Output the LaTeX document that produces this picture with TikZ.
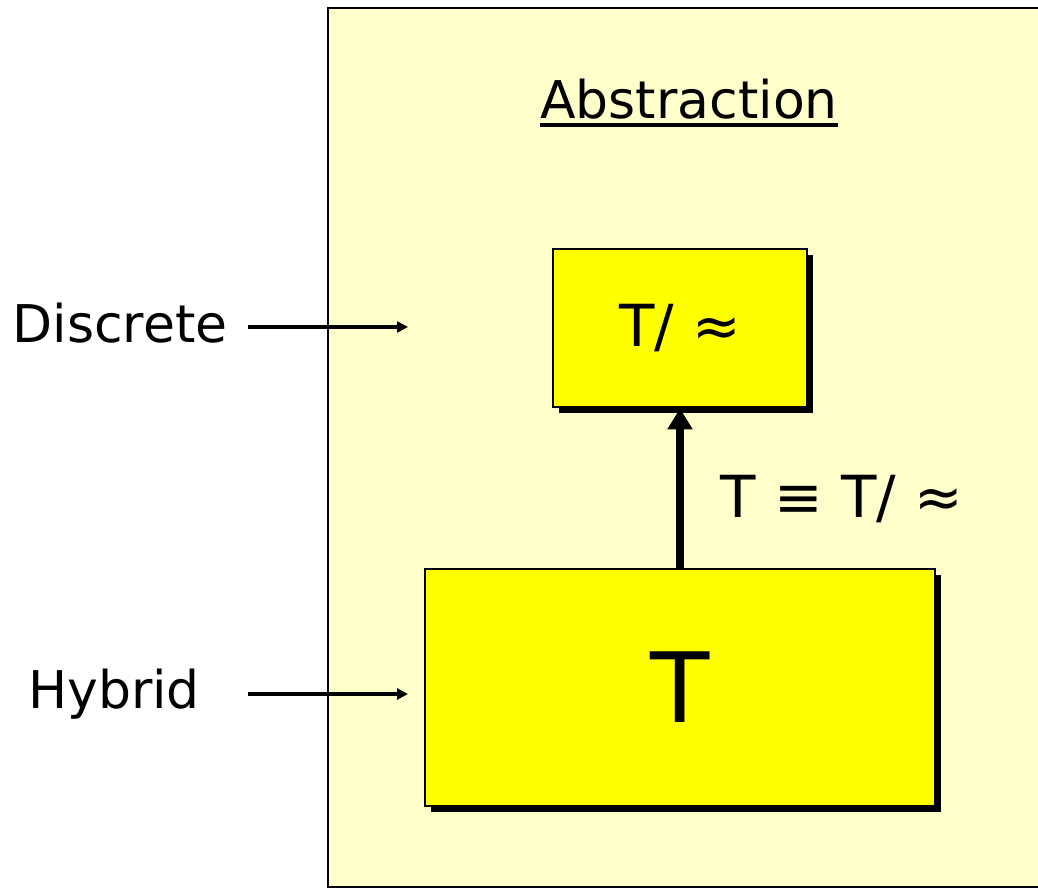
\documentclass[tikz,border=0pt]{standalone}
\usepackage{fontspec}
\setmainfont{DejaVu Sans}
\usetikzlibrary{arrows.meta,shadows,calc}
\definecolor{panelfill}{HTML}{FFFFCC}
\definecolor{boxfill}{HTML}{FFFF00}
\begin{document}
\begin{tikzpicture}[x=1pt,y=-1pt,
  side label/.style={font=\fontsize{52}{60}\selectfont, inner sep=0pt, anchor=base},
  formula/.style={font=\fontsize{58}{66}\selectfont, inner sep=0pt},
  level box/.style={draw=black, line width=2.8pt, fill=boxfill, inner sep=0pt,
    drop shadow={shadow xshift=6pt, shadow yshift=-6pt, fill=black, opacity=1}},
  pointer/.style={line width=3.4pt, -{Triangle[length=11pt,width=11pt]}},
  refine/.style={line width=8pt, -{Triangle[length=21pt,width=24pt]}}
]
\useasboundingbox (0,0) rectangle (1038,888);
\clip (0,0) rectangle (1038,888);
\fill[white] (0,0) rectangle (1038,888);

% abstraction panel, running off the right edge
\draw[fill=panelfill, line width=2.2pt] (328,8) rectangle (1060,887);

% title with underline
\node[side label] (title) at (689,118) {Abstraction};
\draw[line width=4pt] ($(title.base west)+(0,7)$) -- ($(title.base east)+(0,7)$);

% the two levels
\node[level box, formula, minimum width=254pt, minimum height=158pt] (upper) at (680,328) {T/ ≈};
\node[level box, font=\fontsize{97}{110}\selectfont, minimum width=510pt, minimum height=237pt] (lower) at (680,687.5) {T};

% refinement arrow and its label
\draw[refine] (lower.north) -- (upper.south);
\node[formula, anchor=base] (equiv) at (842,517) {T ≡ T/ ≈};

% side labels with pointers
\node[side label] (discrete) at (120,342) {Discrete};
\node[side label] (hybrid) at (114,708) {Hybrid};
\coordinate (dstart) at (248,327);
\coordinate (dend) at (408,327);
\coordinate (hstart) at (248,694);
\coordinate (hend) at (408,694);
\draw[pointer] (dstart) -- (dend);
\draw[pointer] (hstart) -- (hend);
\end{tikzpicture}
\end{document}
